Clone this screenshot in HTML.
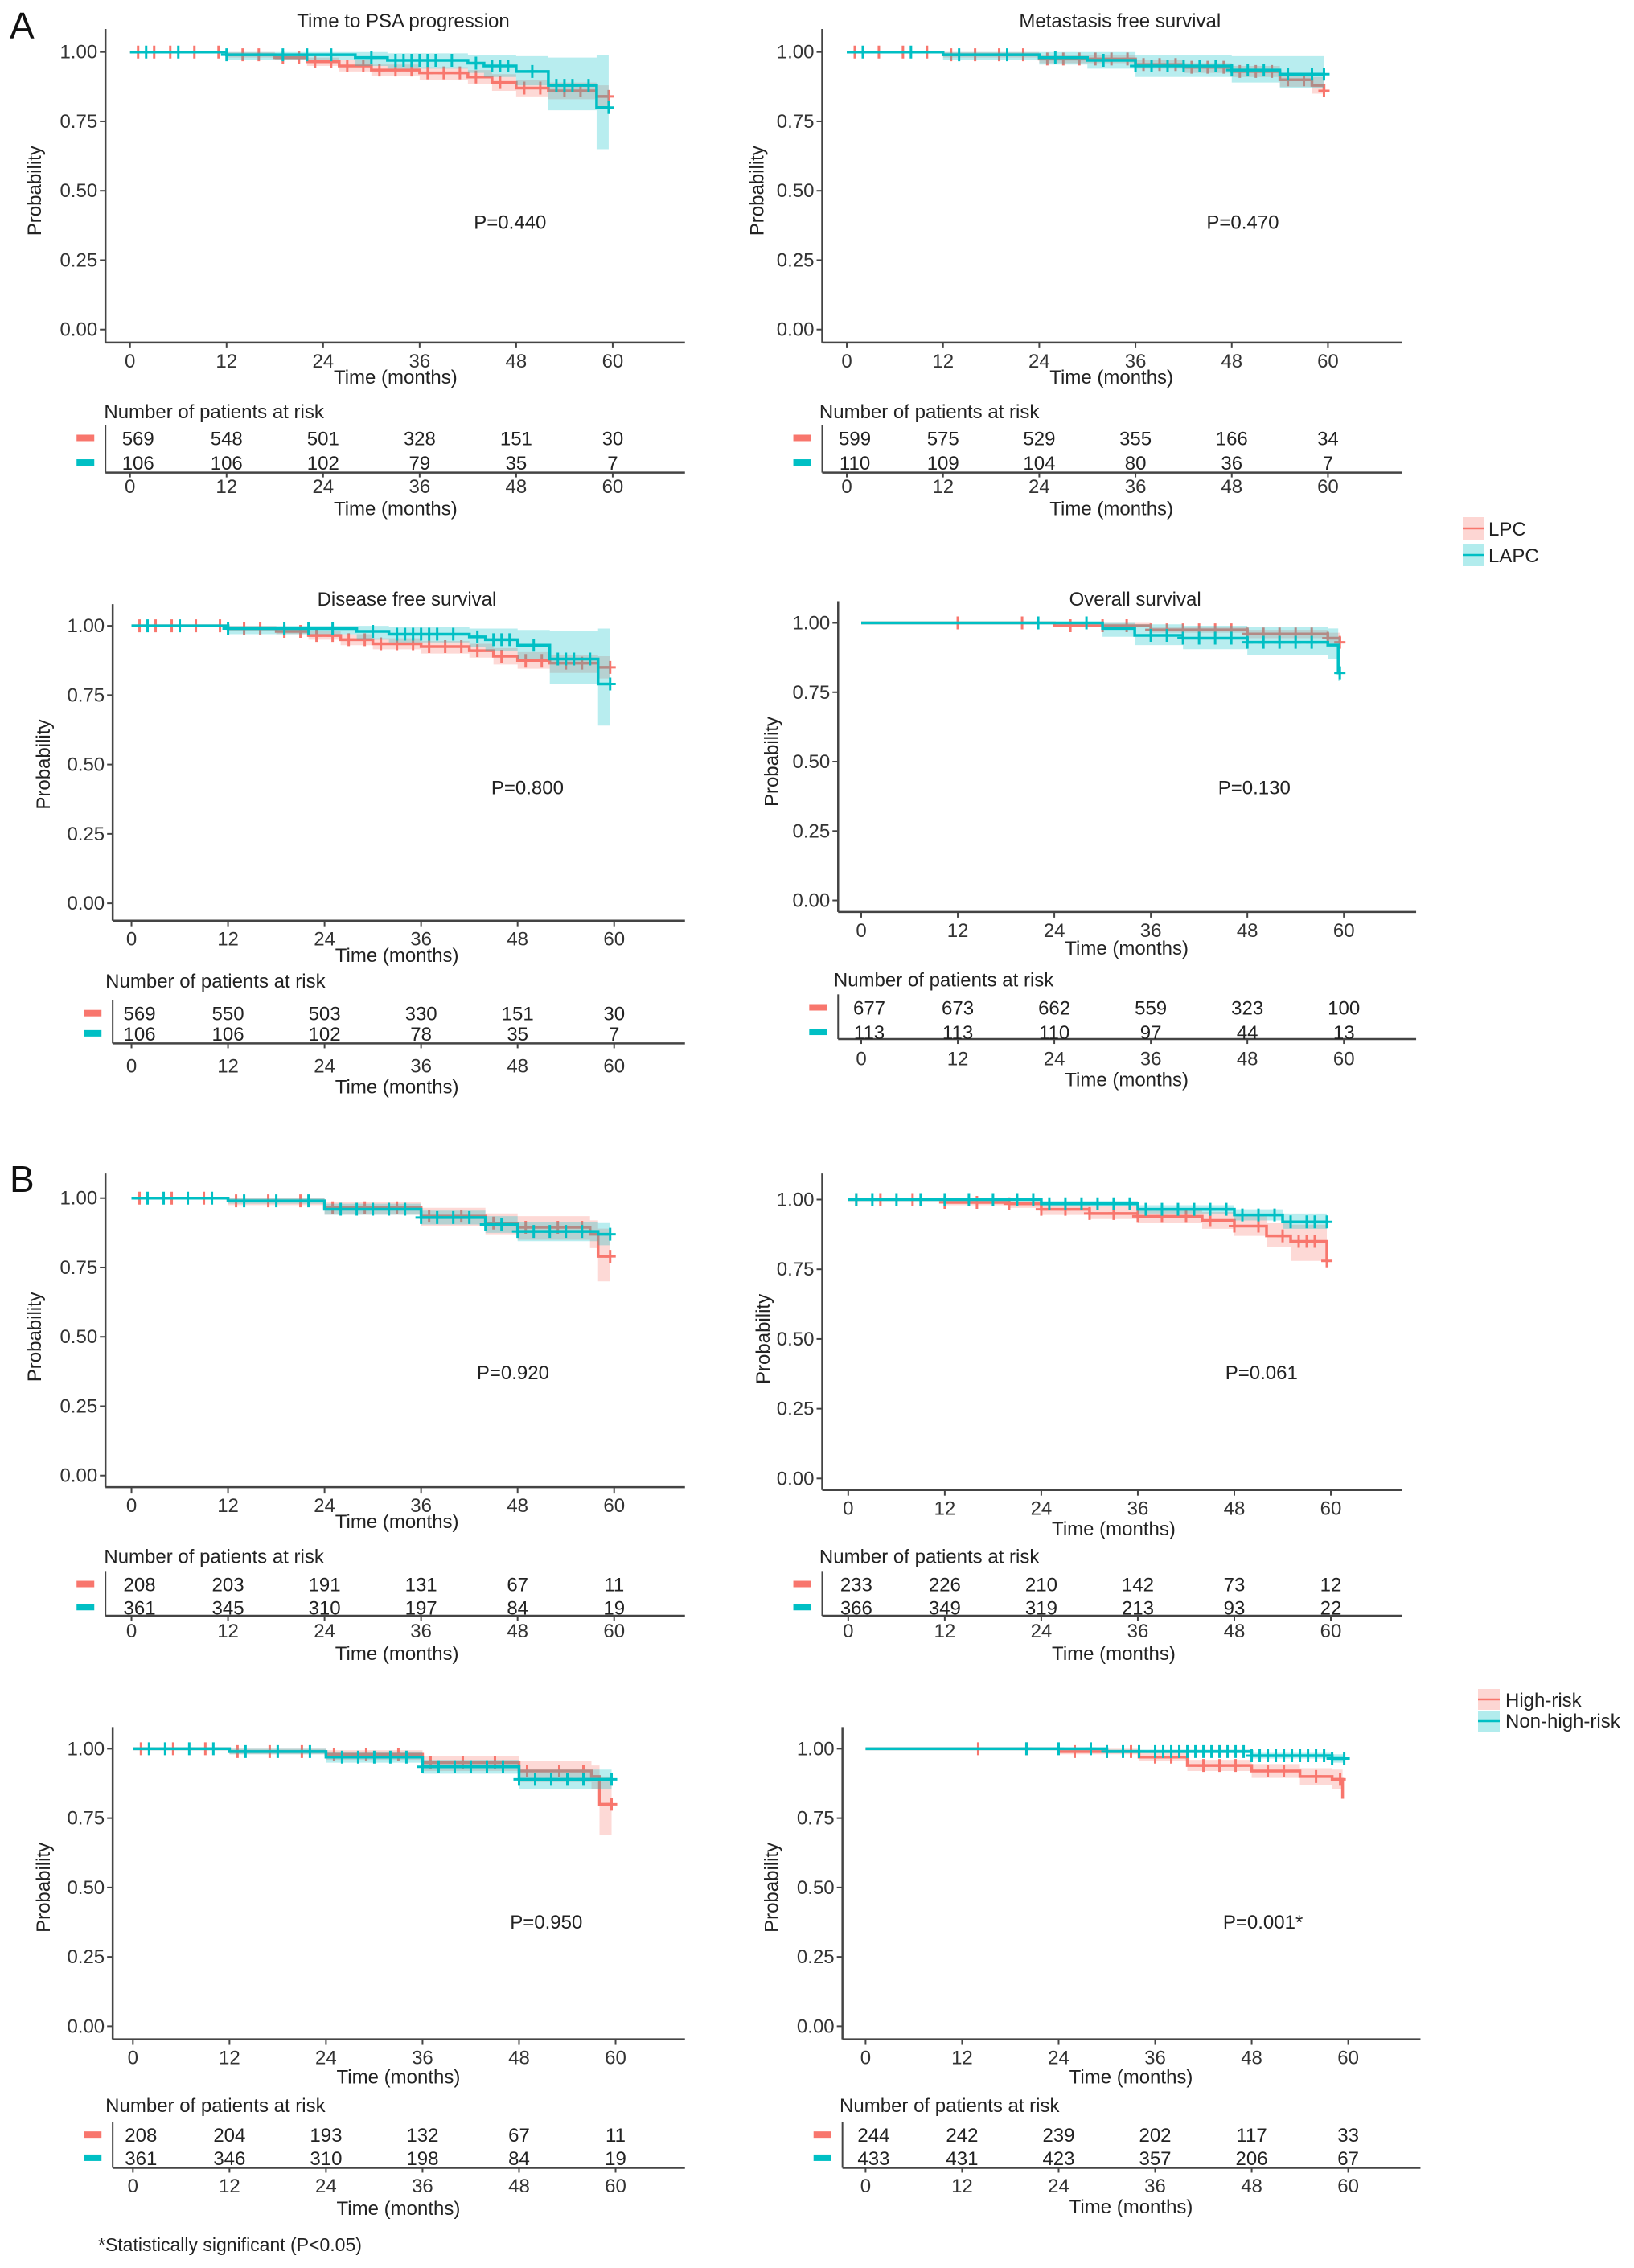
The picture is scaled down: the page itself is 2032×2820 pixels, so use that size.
<!DOCTYPE html>
<html><head><meta charset="utf-8"><style>
html,body{margin:0;padding:0;background:#fff;}
svg{display:block;font-family:"Liberation Sans",sans-serif;}
</style></head><body>
<svg id="fig" width="2032" height="2820" viewBox="0 0 2032 2820" xmlns="http://www.w3.org/2000/svg">
<text x="12" y="48" font-size="46" fill="#111">A</text>
<text x="12" y="1482" font-size="46" fill="#111">B</text>
<text x="122" y="2799" font-size="23" fill="#222">*Statistically significant (P&lt;0.05)</text>
<g id="legA">
<rect x="1819" y="643" width="27" height="28" fill="#F8766D" opacity="0.3"/>
<line x1="1819" y1="657" x2="1846" y2="657" stroke="#F8766D" stroke-width="2.5"/>
<rect x="1819" y="676" width="27" height="28" fill="#00BFC4" opacity="0.3"/>
<line x1="1819" y1="690" x2="1846" y2="690" stroke="#00BFC4" stroke-width="2.5"/>
<text x="1851" y="666" font-size="24" fill="#222">LPC</text>
<text x="1851" y="699" font-size="24" fill="#222">LAPC</text>
</g>
<g id="legB">
<rect x="1838" y="2100" width="27" height="26" fill="#F8766D" opacity="0.3"/>
<line x1="1838" y1="2113" x2="1865" y2="2113" stroke="#F8766D" stroke-width="2.5"/>
<rect x="1838" y="2127" width="27" height="26" fill="#00BFC4" opacity="0.3"/>
<line x1="1838" y1="2140" x2="1865" y2="2140" stroke="#00BFC4" stroke-width="2.5"/>
<text x="1872" y="2122" font-size="24" fill="#222">High-risk</text>
<text x="1872" y="2148" font-size="24" fill="#222">Non-high-risk</text>
</g>
</svg>
<script>
// ---------- data (months, survival probability) ----------
const xTicks = [0, 12, 24, 36, 48, 60];
const yTicks = [0, 0.25, 0.5, 0.75, 1.0];
const yTickLabels = ["0.00", "0.25", "0.50", "0.75", "1.00"];

// A1 Time to PSA progression
const a1RedT  = [0, 12, 18, 22, 26, 30, 36, 42, 45, 48, 52, 58];
const a1RedS  = [1, 0.99, 0.98, 0.965, 0.95, 0.935, 0.925, 0.91, 0.89, 0.87, 0.86, 0.84];
const a1RedLo = [1, 0.98, 0.97, 0.95, 0.93, 0.915, 0.90, 0.885, 0.86, 0.84, 0.83, 0.80];
const a1RedHi = [1, 1, 0.99, 0.98, 0.97, 0.955, 0.945, 0.935, 0.92, 0.90, 0.89, 0.88];
const a1BluT  = [0, 12, 28, 32, 42, 44, 48, 52, 58];
const a1BluS  = [1, 0.99, 0.98, 0.97, 0.96, 0.95, 0.93, 0.88, 0.80];
const a1BluLo = [1, 0.97, 0.95, 0.94, 0.925, 0.91, 0.88, 0.79, 0.65];
const a1BluHi = [1, 1, 1, 0.995, 0.99, 0.99, 0.985, 0.98, 0.99];
const a1RedC = [1,3,5,8,11,14,16,19,21,23,25,27,29,31,33,35,37,39,41,43,46,49,51,54,56,59.5];
const a1BluC = [2,6,12,19,22,25,30,33,34,35,36,37,38,40,43,45,46,47,50,53,54,55,57,59.5];
const a1Risk1 = [569, 548, 501, 328, 151, 30];
const a1Risk2 = [106, 106, 102, 79, 35, 7];

// A2 Metastasis free survival
const a2RedT  = [0, 12, 24, 36, 42, 48, 54, 58, 59.5];
const a2RedS  = [1, 0.99, 0.975, 0.955, 0.945, 0.93, 0.90, 0.88, 0.86];
const a2RedLo = [1, 0.98, 0.96, 0.94, 0.925, 0.91, 0.875, 0.85, 0.82];
const a2RedHi = [1, 1, 0.99, 0.97, 0.96, 0.95, 0.925, 0.91, 0.90];
const a2BluT  = [0, 12, 24, 30, 36, 48, 54];
const a2BluS  = [1, 0.99, 0.98, 0.97, 0.95, 0.935, 0.92];
const a2BluLo = [1, 0.97, 0.955, 0.94, 0.91, 0.89, 0.87];
const a2BluHi = [1, 1, 1, 1, 0.99, 0.985, 0.985];
const a2RedC = [1,4,7,10,13,16,19,22,25,27,29,31,33,35,37,39,41,43,45,47,49,51,53,55,57,59.5];
const a2BluC = [2,8,14,20,26,32,36,38,40,42,44,46,48,50,52,55,58,59.5];
const a2Risk1 = [599, 575, 529, 355, 166, 34];
const a2Risk2 = [110, 109, 104, 80, 36, 7];

// A3 Disease free survival
const a3RedT  = [0, 12, 18, 22, 26, 30, 36, 42, 45, 48, 52, 58];
const a3RedS  = [1, 0.99, 0.98, 0.965, 0.95, 0.935, 0.925, 0.91, 0.89, 0.875, 0.865, 0.85];
const a3RedLo = [1, 0.98, 0.97, 0.95, 0.93, 0.915, 0.90, 0.885, 0.86, 0.845, 0.83, 0.81];
const a3RedHi = [1, 1, 0.99, 0.98, 0.97, 0.955, 0.945, 0.935, 0.92, 0.905, 0.895, 0.89];
const a3BluT  = [0, 12, 28, 32, 42, 44, 48, 52, 58];
const a3BluS  = [1, 0.99, 0.98, 0.97, 0.96, 0.95, 0.93, 0.88, 0.79];
const a3BluLo = [1, 0.97, 0.95, 0.94, 0.925, 0.91, 0.88, 0.79, 0.64];
const a3BluHi = [1, 1, 1, 0.995, 0.99, 0.99, 0.985, 0.98, 0.99];
const a3RedC = [1,3,5,8,11,14,16,19,21,23,25,27,29,31,33,35,37,39,41,43,46,49,51,54,56,59.5];
const a3BluC = [2,6,12,19,22,25,30,33,34,35,36,37,38,40,43,45,46,47,50,53,54,55,57,59.5];
const a3Risk1 = [569, 550, 503, 330, 151, 30];
const a3Risk2 = [106, 106, 102, 78, 35, 7];

// A4 Overall survival
const a4RedT  = [0, 24, 36, 48, 58, 59.5];
const a4RedS  = [1, 0.99, 0.975, 0.96, 0.945, 0.93];
const a4RedLo = [1, 0.985, 0.965, 0.945, 0.925, 0.90];
const a4RedHi = [1, 1, 0.985, 0.975, 0.965, 0.955];
const a4BluT  = [0, 30, 34, 40, 48, 58, 59.3];
const a4BluS  = [1, 0.98, 0.955, 0.945, 0.93, 0.92, 0.82];
const a4BluLo = [1, 0.95, 0.92, 0.905, 0.885, 0.87, 0.79];
const a4BluHi = [1, 1, 0.995, 0.99, 0.985, 0.98, 0.95];
const a4RedC = [12,20,26,30,33,36,38,40,42,44,46,48,50,52,54,56,58,59.5];
const a4BluC = [22,28,36,38,40,42,44,46,48,50,52,54,56,59.5];
const a4Risk1 = [677, 673, 662, 559, 323, 100];
const a4Risk2 = [113, 113, 110, 97, 44, 13];

// B1 Time to PSA progression
const b1RedT  = [0, 12, 24, 36, 44, 48, 57, 58];
const b1RedS  = [1, 0.99, 0.965, 0.935, 0.91, 0.895, 0.87, 0.79];
const b1RedLo = [1, 0.975, 0.94, 0.90, 0.87, 0.85, 0.82, 0.70];
const b1RedHi = [1, 1, 0.985, 0.965, 0.945, 0.935, 0.92, 0.89];
const b1BluT  = [0, 12, 24, 36, 44, 48, 58];
const b1BluS  = [1, 0.99, 0.96, 0.93, 0.905, 0.88, 0.87];
const b1BluLo = [1, 0.98, 0.94, 0.905, 0.875, 0.845, 0.83];
const b1BluHi = [1, 1, 0.98, 0.955, 0.935, 0.915, 0.91];
const b1RedC = [1,5,9,13,17,21,25,29,33,37,41,45,49,53,56,59.5];
const b1BluC = [2,4,7,10,14,18,22,26,28,30,32,34,36,38,40,42,44,46,48,50,52,54,56,59.5];
const b1Risk1 = [208, 203, 191, 131, 67, 11];
const b1Risk2 = [361, 345, 310, 197, 84, 19];

// B2 Metastasis free survival
const b2RedT  = [0, 12, 20, 24, 30, 36, 44, 48, 52, 55, 59.5];
const b2RedS  = [1, 0.99, 0.985, 0.965, 0.95, 0.94, 0.925, 0.905, 0.87, 0.85, 0.78];
const b2RedLo = [1, 0.98, 0.97, 0.945, 0.93, 0.915, 0.895, 0.87, 0.83, 0.78, 0.66];
const b2RedHi = [1, 1, 0.995, 0.985, 0.975, 0.965, 0.955, 0.94, 0.915, 0.91, 0.90];
const b2BluT  = [0, 24, 36, 48, 54];
const b2BluS  = [1, 0.985, 0.965, 0.945, 0.92];
const b2BluLo = [1, 0.975, 0.95, 0.925, 0.895];
const b2BluHi = [1, 0.995, 0.98, 0.965, 0.95];
const b2RedC = [1,4,8,12,16,20,24,27,30,33,36,39,42,45,48,51,54,56,57,58,59.5];
const b2BluC = [1,3,6,9,12,15,18,21,23,25,27,29,31,33,35,37,39,41,43,45,47,49,51,53,55,57,58,59.5];
const b2Risk1 = [233, 226, 210, 142, 73, 12];
const b2Risk2 = [366, 349, 319, 213, 93, 22];

// B3 Disease free survival
const b3RedT  = [0, 12, 24, 36, 48, 57, 58];
const b3RedS  = [1, 0.99, 0.98, 0.95, 0.92, 0.90, 0.80];
const b3RedLo = [1, 0.98, 0.96, 0.92, 0.88, 0.855, 0.69];
const b3RedHi = [1, 1, 0.995, 0.975, 0.955, 0.94, 0.90];
const b3BluT  = [0, 12, 24, 36, 48];
const b3BluS  = [1, 0.99, 0.97, 0.935, 0.89];
const b3BluLo = [1, 0.98, 0.95, 0.91, 0.855];
const b3BluHi = [1, 1, 0.99, 0.96, 0.925];
const b3RedC = [1,5,9,13,17,21,25,29,33,37,41,45,49,53,56,59.5];
const b3BluC = [2,4,7,10,14,18,22,26,28,30,32,34,36,38,40,42,44,46,48,50,52,54,56,59.5];
const b3Risk1 = [208, 204, 193, 132, 67, 11];
const b3Risk2 = [361, 346, 310, 198, 84, 19];

// B4 Overall survival
const b4RedT  = [0, 24, 34, 40, 48, 54, 58, 59.3];
const b4RedS  = [1, 0.99, 0.97, 0.94, 0.92, 0.90, 0.89, 0.82];
const b4RedLo = [1, 0.98, 0.955, 0.92, 0.895, 0.87, 0.855, 0.78];
const b4RedHi = [1, 1, 0.985, 0.96, 0.945, 0.93, 0.925, 0.88];
const b4BluT  = [0, 30, 48, 58];
const b4BluS  = [1, 0.99, 0.975, 0.965];
const b4BluLo = [1, 0.985, 0.965, 0.95];
const b4BluHi = [1, 0.997, 0.985, 0.98];
const b4RedC = [14,20,26,30,33,36,38,42,44,46,50,52,56,59];
const b4BluC = [20,24,28,30,32,34,36,37,38,39,40,41,42,43,44,45,46,47,48,49,50,51,52,53,54,55,56,57,58,59.5];
const b4Risk1 = [244, 242, 239, 202, 117, 33];
const b4Risk2 = [433, 431, 423, 357, 206, 67];

// ---------- geometry (preview coords * S) ----------
const S = 1.797;
const RED = "#F8766D", BLU = "#00BFC4";
const NS = "http://www.w3.org/2000/svg";
const svg = document.getElementById("fig");

const panels = [
 {id:"a1", title:"Time to PSA progression", p:"P=0.440", ax:73, xe:474, x0:90, x60:424, y1:36, y0:228, axY:237, top:20, pX:353, pY:154, probX:24, timeY:261, rtY:285, rtX:72, r1:303, r2:320, lineY:327, tickY:336, time2Y:352, titleY:14,
  red:[a1RedT,a1RedS,a1RedLo,a1RedHi,a1RedC], blu:[a1BluT,a1BluS,a1BluLo,a1BluHi,a1BluC], risk:[a1Risk1,a1Risk2]},
 {id:"a2", title:"Metastasis free survival", p:"P=0.470", ax:569, xe:970, x0:586, x60:919, y1:36, y0:228, axY:237, top:20, pX:860, pY:154, probX:524, timeY:261, rtY:285, rtX:567, r1:303, r2:320, lineY:327, tickY:336, time2Y:352, titleY:14,
  red:[a2RedT,a2RedS,a2RedLo,a2RedHi,a2RedC], blu:[a2BluT,a2BluS,a2BluLo,a2BluHi,a2BluC], risk:[a2Risk1,a2Risk2]},
 {id:"a3", title:"Disease free survival", p:"P=0.800", ax:78, xe:474, x0:91, x60:425, y1:433, y0:625, axY:637, top:418, pX:365, pY:545, probX:30, timeY:661, rtY:679, rtX:73, r1:701, r2:715, lineY:722, tickY:737, time2Y:752, titleY:414,
  red:[a3RedT,a3RedS,a3RedLo,a3RedHi,a3RedC], blu:[a3BluT,a3BluS,a3BluLo,a3BluHi,a3BluC], risk:[a3Risk1,a3Risk2]},
 {id:"a4", title:"Overall survival", p:"P=0.130", ax:580, xe:980, x0:596, x60:930, y1:431, y0:623, axY:631, top:416, pX:868, pY:545, probX:534, timeY:656, rtY:678, rtX:577, r1:697, r2:714, lineY:719, tickY:732, time2Y:747, titleY:414,
  red:[a4RedT,a4RedS,a4RedLo,a4RedHi,a4RedC], blu:[a4BluT,a4BluS,a4BluLo,a4BluHi,a4BluC], risk:[a4Risk1,a4Risk2]},
 {id:"b1", title:"", p:"P=0.920", ax:73, xe:474, x0:91, x60:425, y1:829, y0:1021, axY:1029, top:812, pX:355, pY:950, probX:24, timeY:1053, rtY:1077, rtX:72, r1:1096, r2:1112, lineY:1118, tickY:1128, time2Y:1144, titleY:0,
  red:[b1RedT,b1RedS,b1RedLo,b1RedHi,b1RedC], blu:[b1BluT,b1BluS,b1BluLo,b1BluHi,b1BluC], risk:[b1Risk1,b1Risk2]},
 {id:"b2", title:"", p:"P=0.061", ax:569, xe:970, x0:587, x60:921, y1:830, y0:1023, axY:1031, top:812, pX:873, pY:950, probX:528, timeY:1058, rtY:1077, rtX:567, r1:1096, r2:1112, lineY:1118, tickY:1128, time2Y:1144, titleY:0,
  red:[b2RedT,b2RedS,b2RedLo,b2RedHi,b2RedC], blu:[b2BluT,b2BluS,b2BluLo,b2BluHi,b2BluC], risk:[b2Risk1,b2Risk2]},
 {id:"b3", title:"", p:"P=0.950", ax:78, xe:474, x0:92, x60:426, y1:1210, y0:1402, axY:1411, top:1195, pX:378, pY:1330, probX:30, timeY:1437, rtY:1457, rtX:73, r1:1477, r2:1493, lineY:1500, tickY:1512, time2Y:1528, titleY:0,
  red:[b3RedT,b3RedS,b3RedLo,b3RedHi,b3RedC], blu:[b3BluT,b3BluS,b3BluLo,b3BluHi,b3BluC], risk:[b3Risk1,b3Risk2]},
 {id:"b4", title:"", p:"P=0.001*", ax:583, xe:983, x0:599, x60:933, y1:1210, y0:1402, axY:1411, top:1195, pX:874, pY:1330, probX:534, timeY:1437, rtY:1457, rtX:581, r1:1477, r2:1493, lineY:1500, tickY:1512, time2Y:1527, titleY:0,
  red:[b4RedT,b4RedS,b4RedLo,b4RedHi,b4RedC], blu:[b4BluT,b4BluS,b4BluLo,b4BluHi,b4BluC], risk:[b4Risk1,b4Risk2]}
];

function mk(tag, attrs, parent, txt){
  const e = document.createElementNS(NS, tag);
  for (const k in attrs) e.setAttribute(k, attrs[k]);
  if (txt !== undefined) e.textContent = txt;
  parent.appendChild(e);
  return e;
}
function stepAt(T, V, t){ let v = V[0]; for (let i=0;i<T.length;i++){ if (T[i] <= t) v = V[i]; } return v; }

panels.forEach(P => {
  const g = mk("g", {}, svg);
  
  
  const xs = t => (P.x0 + (P.x60 - P.x0) * t / 60) * S;
  const ys = v => (P.y0 + (P.y1 - P.y0) * v) * S;
  const axL = P.ax * S, axB = P.axY * S, xE = P.xe * S;
  const tEnd = 60;

  if (P.title) {
    const t = mk("text", {x: (axL + xE) / 2 + 10, y: P.titleY * S + 9, "font-size": 24, fill: "#222", "text-anchor": "middle"}, g, P.title);
    
    
  }
  [[P.red, RED], [P.blu, BLU]].forEach(([ser, col], si) => {
    const [T, Sv, Lo, Hi, C] = ser;
    const last = Math.min(tEnd, Math.max(T[T.length-1], C[C.length-1]));
    const n = T.length;
    const nextT = i => (i < n-1 ? T[i+1] : last);
    let d = "";
    for (let i=0;i<n;i++){
      d += (i===0 ? "M" : " L") + xs(T[i]) + "," + ys(Hi[i]) + " L" + xs(nextT(i)) + "," + ys(Hi[i]);
    }
    for (let i=n-1;i>=0;i--){
      d += " L" + xs(nextT(i)) + "," + ys(Lo[i]) + " L" + xs(T[i]) + "," + ys(Lo[i]);
    }
    d += " Z";
    const band = mk("path", {d: d, fill: col, opacity: 0.28}, g);
    
    
    let ld = "M" + xs(T[0]) + "," + ys(Sv[0]);
    for (let i=1;i<n;i++) ld += " H" + xs(T[i]) + " V" + ys(Sv[i]);
    ld += " H" + xs(last);
    const line = mk("path", {d: ld, fill: "none", stroke: col, "stroke-width": 3.5}, g);
    
    
    C.forEach(c => {
      const cx = xs(c), cy = ys(stepAt(T, Sv, c));
      const m = mk("path", {d: `M${cx-7},${cy} H${cx+7} M${cx},${cy-8} V${cy+8}`, stroke: col, "stroke-width": 3}, g);
      
      
    });
  });
  const yA = mk("line", {x1: axL, y1: P.top * S, x2: axL, y2: axB, stroke: "#444", "stroke-width": 2.5}, g);
  
  
  const xA = mk("line", {x1: axL, y1: axB, x2: xE, y2: axB, stroke: "#444", "stroke-width": 2.5}, g);
  
  
  yTicks.forEach((v, i) => {
    mk("line", {x1: axL - 7, y1: ys(v), x2: axL, y2: ys(v), stroke: "#444", "stroke-width": 2}, g);
    const t = mk("text", {x: axL - 10, y: ys(v) + 8, "font-size": 24, fill: "#333", "text-anchor": "end"}, g, yTickLabels[i]);
    
    
  });
  xTicks.forEach(v => {
    mk("line", {x1: xs(v), y1: axB, x2: xs(v), y2: axB + 7, stroke: "#444", "stroke-width": 2}, g);
    const t = mk("text", {x: xs(v), y: axB + 31, "font-size": 24, fill: "#333", "text-anchor": "middle"}, g, String(v));
    
    
  });
  const xt = mk("text", {x: xs(33), y: P.timeY * S + 8, "font-size": 24, fill: "#222", "text-anchor": "middle"}, g, "Time (months)");
  
  
  const yc = (P.y0 + P.y1) / 2 * S;
  const yt = mk("text", {x: P.probX * S + 8, y: yc, "font-size": 24, fill: "#222", "text-anchor": "middle", transform: `rotate(-90 ${P.probX * S + 8} ${yc})`}, g, "Probability");
  
  
  const pv = mk("text", {x: P.pX * S, y: P.pY * S + 8, "font-size": 24, fill: "#222", "text-anchor": "middle"}, g, P.p);
  
  
  const rt = mk("text", {x: P.rtX * S, y: P.rtY * S + 8, "font-size": 24, fill: "#222"}, g, "Number of patients at risk");
  
  
  mk("line", {x1: axL, y1: (P.r1 - 9) * S, x2: axL, y2: P.lineY * S, stroke: "#444", "stroke-width": 2}, g);
  const rl = mk("line", {x1: axL, y1: P.lineY * S, x2: xE, y2: P.lineY * S, stroke: "#444", "stroke-width": 2.5}, g);
  
  
  [[P.r1, RED], [P.r2, BLU]].forEach(([ry, col], ri) => {
    const sw = mk("rect", {x: (P.ax - 20) * S, y: ry * S - 4, width: 22, height: 8, fill: col}, g);
    
    
    P.risk[ri].forEach((n, k) => {
      const t = mk("text", {x: xs(xTicks[k]) + (k === 0 ? 10 : 0), y: ry * S + 9, "font-size": 24, fill: "#222", "text-anchor": "middle"}, g, String(n));
      
      
    });
  });
  xTicks.forEach(v => {
    mk("line", {x1: xs(v), y1: P.lineY * S, x2: xs(v), y2: P.lineY * S + 6, stroke: "#444", "stroke-width": 2}, g);
    const t = mk("text", {x: xs(v), y: P.tickY * S + 9, "font-size": 24, fill: "#333", "text-anchor": "middle"}, g, String(v));
    
    
  });
  const x2 = mk("text", {x: xs(33), y: P.time2Y * S + 8, "font-size": 24, fill: "#222", "text-anchor": "middle"}, g, "Time (months)");
  
  
});
</script>
</body></html>
